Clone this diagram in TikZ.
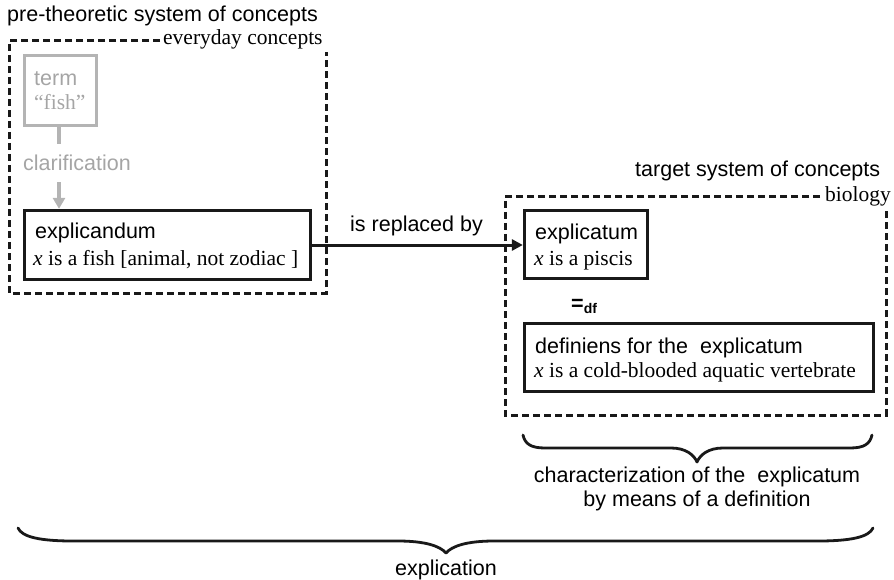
\documentclass[tikz,border=0pt]{standalone}
\usepackage{fontspec}
\setmainfont{Liberation Serif}
\setsansfont{Liberation Sans}
\usetikzlibrary{arrows.meta}
\definecolor{lgray}{RGB}{180,180,180}
\definecolor{tgray}{RGB}{165,165,165}
\tikzset{
 lbl/.style={inner sep=0pt, anchor=base west, font=\sffamily\fontsize{21.5}{25}\selectfont},
 ser/.style={inner sep=0pt, anchor=base west, font=\rmfamily\fontsize{21.5}{25}\selectfont},
 clbl/.style={inner sep=0pt, anchor=base, font=\sffamily\fontsize{21.5}{25}\selectfont},
 box/.style={draw=black!90, line width=3.3pt, inner sep=0pt},
 graybox/.style={draw=lgray, line width=3.3pt, inner sep=0pt},
 frame/.style={line width=3pt, dash pattern=on 7pt off 4pt, draw=black!90},
 bracestyle/.style={line width=2.8pt, line join=round, line cap=round, draw=black!90},
 conn/.style={line width=3pt, draw=black!90, -{Triangle[length=11pt,width=11pt]}},
 grayconn/.style={draw=lgray, line width=3.2pt},
}
\begin{document}
\begin{tikzpicture}[x=1pt,y=-1pt]
\useasboundingbox (0,0) rectangle (894,580);
% frames
\draw[frame] (160,41) -- (9,41) -- (9,293) -- (326,293) -- (326,52);
\draw[frame] (820,197) -- (505,197) -- (505,415) -- (886,415) -- (886,210);
% headings
\node[lbl] (pre) at (7,22) {pre-theoretic system of concepts};
\node[ser] (every) at (163,45) {everyday concepts};
\node[lbl] (target) at (635,177) {target system of concepts};
\node[ser] (bio) at (825,202) {biology};
% boxes
\node[graybox, minimum width=72pt, minimum height=70pt] (term) at (60.5,90.5) {};
\node[box, minimum width=286pt, minimum height=69pt] (explicandum) at (167.5,245) {};
\node[box, minimum width=123pt, minimum height=68pt] (explicatum) at (586,244.5) {};
\node[box, minimum width=349pt, minimum height=68pt] (definiens) at (699,357.5) {};
% box texts
\node[lbl, text=tgray] (termA) at (34,86) {term};
\node[ser, text=tgray] (termB) at (34,110) {“fish”};
\node[lbl, text=tgray, inner ysep=11pt] (clar) at (23,171) {clarification};
\node[lbl] (exdA) at (35,239) {explicandum};
\node[ser] (exdB) at (33,265) {\textit{x} is a fish [animal, not zodiac ]};
\node[lbl] (extA) at (535,240) {explicatum};
\node[ser] (extB) at (534,265) {\textit{x} is a piscis};
\node[lbl] (defA) at (535,353) {definiens for the\hspace{0.28em} explicatum};
\node[ser] (defB) at (534,377) {\textit{x} is a cold-blooded aquatic vertebrate};
\node[lbl] (eqdf) at (571,310) {\textbf{=}\raisebox{-3.5pt}{\fontsize{14}{14}\selectfont\bfseries df}};
% connectors
\draw[grayconn] (term.south -| 59,0) -- (clar.north -| 59,0);
\draw[grayconn, -{Triangle[length=11pt,width=12pt]}] (clar.south -| 59,0) -- (explicandum.north -| 59,0);
\draw[conn] (explicandum.east) -- (explicandum.east -| explicatum.west);
\node[lbl] (repl) at (350,232) {is replaced by};
% braces
\draw[bracestyle] (523,435) .. controls (525,444) and (531,448) .. (545,448) -- (671,448) .. controls (686,448) and (694,455) .. (697,462) .. controls (700,455) and (708,448) .. (723,448) -- (850,448) .. controls (864,448) and (870,444) .. (872,435);
\node[clbl] (charA) at (697,482) {characterization of the\hspace{0.28em} explicatum};
\node[clbl] (charB) at (697,506) {by means of a definition};
\draw[bracestyle] (18,528) .. controls (22,537) and (40,541) .. (73,541) -- (398,541) .. controls (425,541) and (440,546) .. (446,553) .. controls (452,546) and (467,541) .. (494,541) -- (818,541) .. controls (851,541) and (869,537) .. (873,528);
\node[clbl] (expl) at (446,575) {explication};
\end{tikzpicture}
\end{document}
